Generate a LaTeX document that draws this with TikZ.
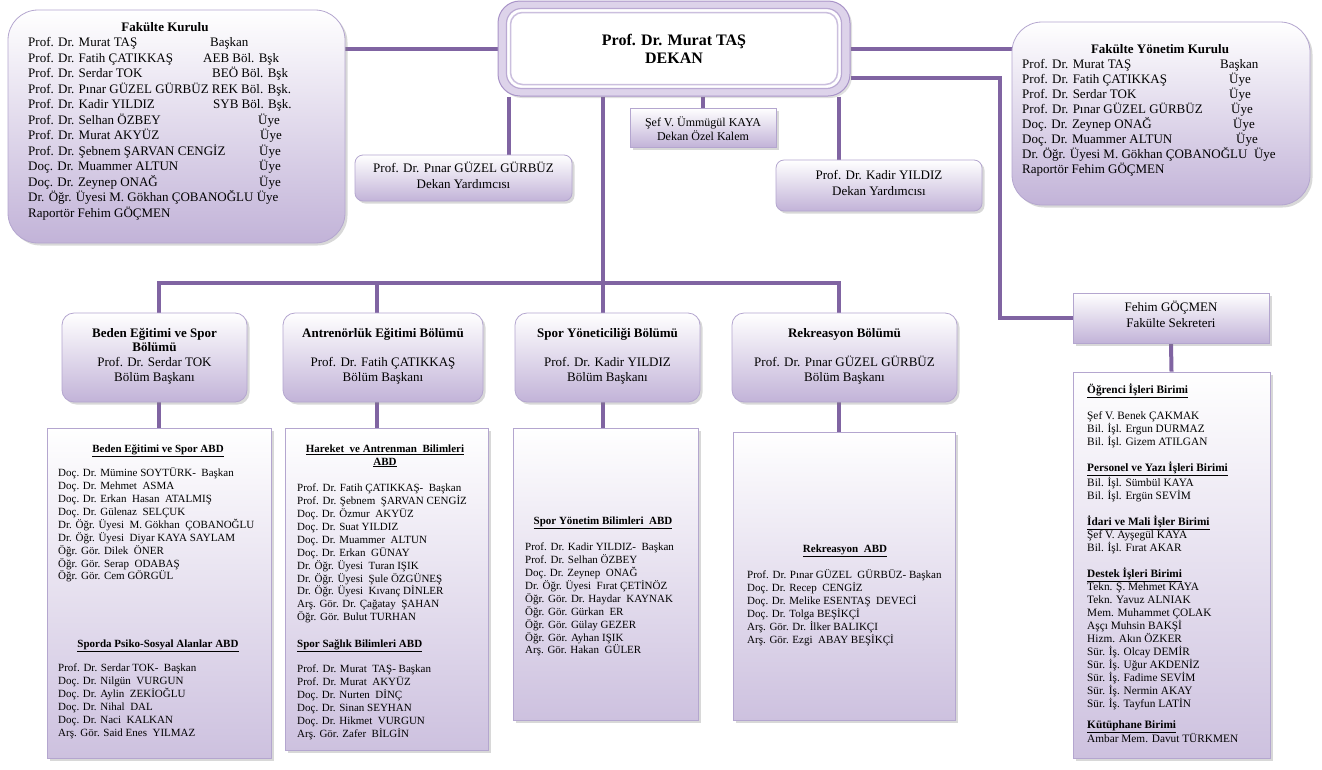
\documentclass[tikz,border=0pt]{standalone}
\usepackage{fontspec}
\setmainfont{Liberation Serif}
\usetikzlibrary{shadows,calc,backgrounds}
\definecolor{linec}{HTML}{8064A2}
\definecolor{bord}{HTML}{B4A6CF}
\definecolor{lav}{HTML}{C2B3D8}
\definecolor{lavb}{HTML}{CDC1DF}
\definecolor{lavm}{HTML}{F1EDF6}
\definecolor{deanfill}{HTML}{DDD3EA}
\definecolor{deanline}{HTML}{A994C8}
\newcommand\myfs[2]{\fontsize{#1}{#2}\selectfont}
\newcommand\rrow[3]{\makebox[0pt][l]{#2}\hspace*{#1pt}#3}
\newcommand\tp[1]{\rule{0pt}{#1pt}}
\newcommand\hd[1]{\underline{\textbf{#1}}}
\begin{document}
\begin{tikzpicture}[x=1pt,y=-1pt,
  conn/.style={draw=linec,line width=4pt},
  shbase/.style={draw=bord,line width=0.8pt,inner sep=0,
     drop shadow={shadow xshift=2.5pt,shadow yshift=-2.5pt,opacity=0.3}},
  kurul/.style={shbase,rounded corners=30pt,top color=white,bottom color=lav},
  bolbox/.style={shbase,rounded corners=12pt,top color=white,bottom color=lav},
  yrdbox/.style={shbase,rounded corners=8pt,top color=white,bottom color=lav},
  sqbox/.style={shbase,top color=white,bottom color=lav},
  abdbox/.style={shbase,top color=white,middle color=lavm,bottom color=lavb},
  deanbox/.style={draw=deanline,line width=1pt,fill=deanfill,rounded corners=22pt,inner sep=0,
     drop shadow={shadow xshift=2pt,shadow yshift=-2pt,opacity=0.25}},
  deanin/.style={draw=deanline!80,line width=1.2pt,fill=white,rounded corners=15pt},
  deanin2/.style={draw=deanline!60,line width=1.5pt,rounded corners=12pt},
  tA/.style={inner sep=0,align=left,font=\myfs{13}{15.5}},
  tB/.style={inner sep=0,align=left,font=\myfs{13}{15}},
  tC/.style={inner sep=0,align=center,font=\myfs{13}{14.7}},
  tD/.style={inner sep=0,align=center,font=\myfs{13}{16}},
  tS/.style={inner sep=0,align=center,font=\myfs{12}{14}},
  tL/.style={inner sep=0,align=left,font=\myfs{11}{12.9}},
  tLc/.style={inner sep=0,align=center,font=\myfs{11}{12.9}},
  tR/.style={inner sep=0,align=left,font=\myfs{11.3}{13}}
]
\useasboundingbox (0,0) rectangle (1322,769);

% ---- boxes ----
\node[kurul,minimum width=337,minimum height=233] (fk) at (176.5,126.5) {};
\node[kurul,minimum width=298,minimum height=183] (fyk) at (1161,113.5) {};
\node[deanbox,minimum width=352,minimum height=95] (dean) at (674,48.5) {};
\draw[deanin] ([shift={(9,8)}]dean.north west) rectangle ([shift={(-9,-8)}]dean.south east);
\draw[deanin2] ([shift={(13,12)}]dean.north west) rectangle ([shift={(-13,-12)}]dean.south east);
\node[sqbox,minimum width=146,minimum height=39] (sef) at (703,127.5) {};
\node[yrdbox,minimum width=217,minimum height=46] (pyrd) at (463.5,178) {};
\node[yrdbox,minimum width=206,minimum height=51] (kyrd) at (879,185.5) {};
\node[bolbox,minimum width=185,minimum height=89] (b1) at (154.5,357.5) {};
\node[bolbox,minimum width=200,minimum height=89] (b2) at (383,357.5) {};
\node[bolbox,minimum width=185,minimum height=89] (b3) at (607.5,357.5) {};
\node[bolbox,minimum width=225,minimum height=89] (b4) at (844.5,357.5) {};
\node[abdbox,minimum width=224,minimum height=330] (a1) at (159,593) {};
\node[abdbox,minimum width=203,minimum height=322] (a2) at (386.5,589) {};
\node[abdbox,minimum width=185,minimum height=292] (a3) at (605.5,574) {};
\node[abdbox,minimum width=222,minimum height=288] (a4) at (844,576) {};
\node[sqbox,minimum width=196,minimum height=50] (fs) at (1171,318) {};
\node[abdbox,minimum width=197,minimum height=386] (ib) at (1171.5,565) {};

% ---- connectors (behind boxes) ----
\coordinate (jr) at (1000,78);
\coordinate (bus) at (603,283);
\coordinate (x1) at (159,0);
\coordinate (x2) at (377,0);
\coordinate (x4) at (839,0);
\coordinate (xp) at (509,0);
\begin{scope}[on background layer]
\fill[white] (0,0) rectangle (1322,769);
\draw[conn] (dean.west) -- (dean.west -| fk.east);
\draw[conn] (dean.east) -- (dean.east -| fyk.west);
\draw[conn] (dean.east |- jr) -- (jr) |- (fs.west);
\draw[conn] (dean.south -| xp) -- (pyrd.north -| xp);
\draw[conn] (dean.south -| sef.north) -- (sef.north);
\draw[conn] (dean.south -| x4) -- (kyrd.north -| x4);
\draw[conn] (dean.south -| bus) -- (a3.north -| bus);
\draw[conn,line cap=butt] ([xshift=-2pt]bus -| x1) -- ([xshift=2pt]bus -| x4);
\draw[conn] (bus -| x1) -- (a1.north -| x1);
\draw[conn] (bus -| x2) -- (a2.north -| x2);
\draw[conn] (bus -| x4) -- (a4.north -| x4);
\draw[conn] (fs.south) -- (ib.north);
\end{scope}

% ---- texts ----
\node[tA,anchor=base] (fkt) at (165,31) {\textbf{Fakülte Kurulu}};
\node[tA,anchor=north west] (fkl) at (28,34.5) {\tp{12}\rrow{182}{Prof. Dr. Murat TAŞ}{Başkan}\\
\rrow{175}{Prof. Dr. Fatih ÇATIKKAŞ}{AEB Böl. Bşk}\\
\rrow{184}{Prof. Dr. Serdar TOK}{BEÖ Böl. Bşk}\\
Prof. Dr. Pınar GÜZEL GÜRBÜZ REK Böl. Bşk.\\
\rrow{185}{Prof. Dr. Kadir YILDIZ}{SYB Böl. Bşk.}\\
\rrow{230}{Prof. Dr. Selhan ÖZBEY}{Üye}\\
\rrow{232}{Prof. Dr. Murat AKYÜZ}{Üye}\\
\rrow{231}{Prof. Dr. Şebnem ŞARVAN CENGİZ}{Üye}\\
\rrow{231}{Doç. Dr. Muammer ALTUN}{Üye}\\
\rrow{231}{Doç. Dr. Zeynep ONAĞ}{Üye}\\
Dr. Öğr. Üyesi M. Gökhan ÇOBANOĞLU Üye\\
Raportör Fehim GÖÇMEN};

\node[tB,anchor=base] (fykt) at (1160,53) {\textbf{Fakülte Yönetim Kurulu}};
\node[tB,anchor=north west] (fykl) at (1022,56) {\tp{12}\rrow{198}{Prof. Dr. Murat TAŞ}{Başkan}\\
\rrow{207}{Prof. Dr. Fatih ÇATIKKAŞ}{Üye}\\
\rrow{207}{Prof. Dr. Serdar TOK}{Üye}\\
\rrow{209}{Prof. Dr. Pınar GÜZEL GÜRBÜZ}{Üye}\\
\rrow{211}{Doç. Dr. Zeynep ONAĞ}{Üye}\\
\rrow{214}{Doç. Dr. Muammer ALTUN}{Üye}\\
Dr. Öğr. Üyesi M. Gökhan ÇOBANOĞLU\ \ Üye\\
Raportör Fehim GÖÇMEN};

\node[inner sep=0,align=center,font=\bfseries\myfs{16}{18},anchor=north] (deant) at (674,31.5) {\tp{14}Prof. Dr. Murat TAŞ\\DEKAN};
\node[tS,anchor=north] (seft) at (703,115) {\tp{11}Şef V. Ümmügül KAYA\\Dekan Özel Kalem};
\node[tD,anchor=north] (pyrdt) at (463.5,160) {\tp{12}Prof. Dr. Pınar GÜZEL GÜRBÜZ\\Dekan Yardımcısı};
\node[tD,anchor=north] (kyrdt) at (879,167) {\tp{12}Prof. Dr. Kadir YILDIZ\\Dekan Yardımcısı};

\node[tC,anchor=north] (b1t) at (154.5,325) {\tp{12}\textbf{Beden Eğitimi ve Spor}\\\textbf{Bölümü}\\Prof. Dr. Serdar TOK\\Bölüm Başkanı};
\node[tC,anchor=north] (b2t) at (383,325) {\tp{12}\textbf{Antrenörlük Eğitimi Bölümü}\\\mbox{}\\Prof. Dr. Fatih ÇATIKKAŞ\\Bölüm Başkanı};
\node[tC,anchor=north] (b3t) at (607.5,325) {\tp{12}\textbf{Spor Yöneticiliği Bölümü}\\\mbox{}\\Prof. Dr. Kadir YILDIZ\\Bölüm Başkanı};
\node[tC,anchor=north] (b4t) at (844.5,325) {\tp{12}\textbf{Rekreasyon Bölümü}\\\mbox{}\\Prof. Dr. Pınar GÜZEL GÜRBÜZ\\Bölüm Başkanı};

\node[tD,anchor=north] (fst) at (1171,299) {\tp{12}Fehim GÖÇMEN\\Fakülte Sekreteri};

% ABD 1
\node[tL,anchor=base] (a1h) at (158,452) {\hd{Beden Eğitimi ve Spor ABD}};
\node[tL,anchor=north west] (a1l) at (58,466.5) {\tp{10}Doç. Dr. Mümine SOYTÜRK-\ \ Başkan\\
Doç. Dr. Mehmet\ \ ASMA\\
Doç. Dr. Erkan\ \ Hasan\ \ ATALMIŞ\\
Doç. Dr. Gülenaz\ \ SELÇUK\\
Dr. Öğr. Üyesi\ \ M. Gökhan\ \ ÇOBANOĞLU\\
Dr. Öğr. Üyesi\ \ Diyar KAYA SAYLAM\\
Öğr. Gör. Dilek\ \ ÖNER\\
Öğr. Gör. Serap\ \ ODABAŞ\\
Öğr. Gör. Cem GÖRGÜL};
\node[tL,anchor=base] (a1h2) at (158,647) {\hd{Sporda Psiko-Sosyal Alanlar ABD}};
\node[tL,anchor=north west] (a1l2) at (58,661.5) {\tp{10}Prof. Dr. Serdar TOK-\ \ Başkan\\
Doç. Dr. Nilgün\ \ VURGUN\\
Doç. Dr. Aylin\ \ ZEKİOĞLU\\
Doç. Dr. Nihal\ \ DAL\\
Doç. Dr. Naci\ \ KALKAN\\
Arş. Gör. Said Enes\ \ YILMAZ};

% ABD 2
\node[tLc,anchor=north] (a2h) at (385,442) {\tp{10}\hd{Hareket\ \ ve Antrenman\ \ Bilimleri}\\\hd{ABD}};
\node[tL,anchor=north west] (a2l) at (297,481.5) {\tp{10}Prof. Dr. Fatih ÇATIKKAŞ-\ \ Başkan\\
Prof. Dr. Şebnem\ \ ŞARVAN CENGİZ\\
Doç. Dr. Özmur\ \ AKYÜZ\\
Doç. Dr. Suat YILDIZ\\
Doç. Dr. Muammer\ \ ALTUN\\
Doç. Dr. Erkan\ \ GÜNAY\\
Dr. Öğr. Üyesi\ \ Turan IŞIK\\
Dr. Öğr. Üyesi\ \ Şule ÖZGÜNEŞ\\
Dr. Öğr. Üyesi\ \ Kıvanç DİNLER\\
Arş. Gör. Dr. Çağatay\ \ ŞAHAN\\
Öğr. Gör. Bulut TURHAN};
\node[tL,anchor=base west] (a2h2) at (297,647) {\hd{Spor Sağlık Bilimleri ABD}};
\node[tL,anchor=north west] (a2l2) at (297,662.5) {\tp{10}Prof. Dr. Murat\ \ TAŞ- Başkan\\
Prof. Dr. Murat\ \ AKYÜZ\\
Doç. Dr. Nurten\ \ DİNÇ\\
Doç. Dr. Sinan SEYHAN\\
Doç. Dr. Hikmet\ \ VURGUN\\
Arş. Gör. Zafer\ \ BİLGİN};

% ABD 3
\node[tL,anchor=base] (a3h) at (603,524) {\hd{Spor Yönetim Bilimleri\ \ ABD}};
\node[tL,anchor=north west] (a3l) at (525,540.5) {\tp{10}Prof. Dr. Kadir YILDIZ-\ \ Başkan\\
Prof. Dr. Selhan ÖZBEY\\
Doç. Dr. Zeynep\ \ ONAĞ\\
Dr. Öğr. Üyesi\ \ Fırat ÇETİNÖZ\\
Öğr. Gör. Dr. Haydar\ \ KAYNAK\\
Öğr. Gör. Gürkan\ \ ER\\
Öğr. Gör. Gülay GEZER\\
Öğr. Gör. Ayhan IŞIK\\
Arş. Gör. Hakan\ \ GÜLER};

% ABD 4
\node[tL,anchor=base] (a4h) at (845,552) {\hd{Rekreasyon\ \ ABD}};
\node[tL,anchor=north west] (a4l) at (747,568.5) {\tp{10}Prof. Dr. Pınar GÜZEL\ \ GÜRBÜZ- Başkan\\
Doç. Dr. Recep\ \ CENGİZ\\
Doç. Dr. Melike ESENTAŞ\ \ DEVECİ\\
Doç. Dr. Tolga BEŞİKÇİ\\
Arş. Gör. Dr. İlker BALIKÇI\\
Arş. Gör. Ezgi\ \ ABAY BEŞİKÇİ};

% Idari birimler
\node[tR,anchor=north west] (ibl) at (1087,383.5) {\tp{10}\hd{Öğrenci İşleri Birimi}\\
\mbox{}\\
Şef V. Benek ÇAKMAK\\
Bil. İşl. Ergun DURMAZ\\
Bil. İşl. Gizem ATILGAN\\
\mbox{}\\
\hd{Personel ve Yazı İşleri Birimi}\\
Bil. İşl. Sümbül KAYA\\
Bil. İşl. Ergün SEVİM\\
\mbox{}\\
\hd{İdari ve Mali İşler Birimi}\\
Şef V. Ayşegül KAYA\\
Bil. İşl. Fırat AKAR\\
\mbox{}\\
\hd{Destek İşleri Birimi}\\
Tekn. Ş. Mehmet KAYA\\
Tekn. Yavuz ALNIAK\\
Mem. Muhammet ÇOLAK\\
Aşçı Muhsin BAKŞİ\\
Hizm. Akın ÖZKER\\
Sür. İş. Olcay DEMİR\\
Sür. İş. Uğur AKDENİZ\\
Sür. İş. Fadime SEVİM\\
Sür. İş. Nermin AKAY\\
Sür. İş. Tayfun LATİN\\[8pt]
\hd{Kütüphane Birimi}\\
Ambar Mem. Davut TÜRKMEN};
\end{tikzpicture}
\end{document}
